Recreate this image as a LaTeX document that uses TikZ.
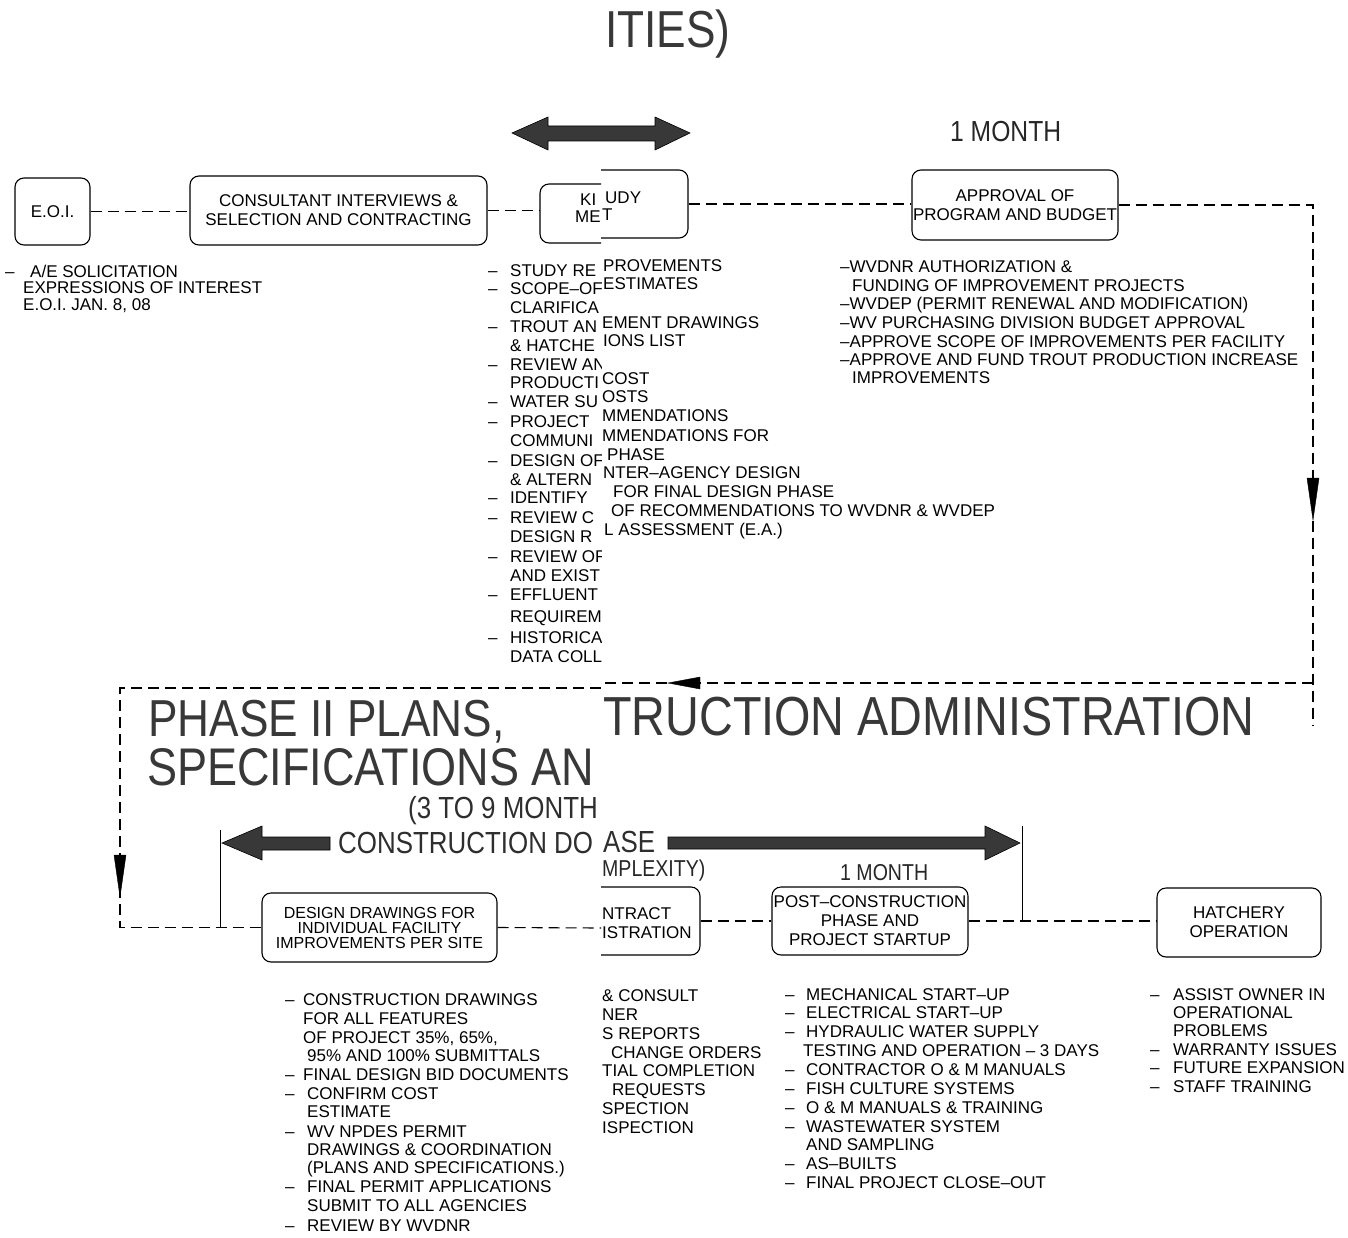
\documentclass[tikz,border=0pt]{standalone}
\usepackage{fontspec}
\setmainfont{Liberation Sans}
\newfontfamily\cadfont{Liberation Sans}
\newfontfamily\ttlfont[FakeStretch=0.85]{Liberation Sans}
\newcommand\tx[4]{\node[cad] (#1) at (#2,#3) {#4};}
\newcommand\bl[5]{\node[cad] (#1d) at (#2,#4) {–};\node[cad] (#1) at (#3,#4) {#5};}
\begin{document}
\begin{tikzpicture}[x=1pt,y=-1pt,
  cad/.style={font=\cadfont\fontsize{17}{19}\selectfont, inner sep=0pt, anchor=base west},
  boxn/.style={draw, rounded corners=9pt, line width=1.1pt, inner sep=0pt, align=center, font=\cadfont\fontsize{17}{19}\selectfont},
  dline/.style={line width=1.1pt, dash pattern=on 11pt off 6pt},
  thin/.style={line width=1pt},
  ttl/.style={font=\ttlfont\fontsize{52}{56}\selectfont, text=black!78, inner sep=0pt, anchor=base west},
  mid/.style={font=\ttlfont\fontsize{30.5}{33}\selectfont, text=black!82, inner sep=0pt, anchor=base west},
  small/.style={font=\ttlfont\fontsize{23}{25}\selectfont, text=black!85, inner sep=0pt, anchor=base west},
  fatarrow/.style={fill=black!78, draw=black, line width=0.6pt},
  tiphead/.style={fill=black, draw=black, line width=0.4pt}]
\useasboundingbox (0,0) rectangle (1348,1238);

% ---------------- top title and arrow
\node[ttl] (title) at (605,48) {ITIES)};
\fill[fatarrow] (512,133) -- (548,117) -- (548,126) -- (655,126) -- (655,117) -- (690,133)
  -- (655,150) -- (655,141) -- (548,141) -- (548,150) -- cycle;
\node[small, font=\ttlfont\fontsize{29}{31}\selectfont] (onemonthA) at (950,142) {1 MONTH};

% ---------------- top row boxes
\node[boxn, minimum width=75pt, minimum height=67pt] (eoi) at (52.5,211.5) {E.O.I.};
\node[boxn, minimum width=297pt, minimum height=69pt] (cons) at (338.5,210.5) {CONSULTANT INTERVIEWS \&\\SELECTION AND CONTRACTING};
\begin{scope}
  \clip (0,0) rectangle (601,1238);
  \node[boxn, minimum width=148pt, minimum height=59pt] (kickA) at (614,213.5) {};
  \tx{kickA1}{580}{206}{KI}
  \tx{kickA2}{575}{223}{ME}
\end{scope}
\begin{scope}
  \clip (601,0) rectangle (1348,1238);
  \node[boxn, minimum width=148pt, minimum height=68pt] (kickB) at (614,204) {};
  \tx{kickB1}{605}{204}{UDY}
  \tx{kickB2}{602}{221}{T}
\end{scope}
\node[boxn, minimum width=206pt, minimum height=70pt] (appr) at (1015,205) {APPROVAL OF\\PROGRAM AND BUDGET};

\draw[dline] (eoi.east) -- (eoi.east -| cons.west);
\draw[dline] (cons.east) -- (cons.east -| kickA.west);
\draw[dline] (kickB.east) -- (kickB.east -| appr.west);

% E.O.I. list
\bl{e1}{5}{30}{278}{A/E SOLICITATION}
\tx{e2}{23}{294}{EXPRESSIONS OF INTEREST}
\tx{e3}{23}{311}{E.O.I. JAN. 8, 08}

% kick-off list, left part
\begin{scope}
  \clip (0,0) rectangle (601,1238);
  \bl{k1}{488}{510}{277}{STUDY RE}
  \bl{k2}{488}{510}{295}{SCOPE–OF}
  \tx{k3}{510}{313}{CLARIFICA}
  \bl{k4}{488}{510}{332}{TROUT AN}
  \tx{k5}{510}{351}{\& HATCHE}
  \bl{k6}{488}{510}{370}{REVIEW AN}
  \tx{k7}{510}{388}{PRODUCTI}
  \bl{k8}{488}{510}{407}{WATER SU}
  \bl{k9}{488}{510}{427}{PROJECT}
  \tx{k10}{510}{446}{COMMUNI}
  \bl{k11}{488}{510}{466}{DESIGN OF}
  \tx{k12}{510}{485}{\& ALTERN}
  \bl{k13}{488}{510}{503}{IDENTIFY}
  \bl{k14}{488}{510}{523}{REVIEW C}
  \tx{k15}{510}{542}{DESIGN R}
  \bl{k16}{488}{510}{562}{REVIEW OF}
  \tx{k17}{510}{581}{AND EXIST}
  \bl{k18}{488}{510}{600}{EFFLUENT}
  \tx{k19}{510}{622}{REQUIREME}
  \bl{k20}{488}{510}{643}{HISTORICA}
  \tx{k21}{510}{662}{DATA COLL}
\end{scope}
% kick-off list, right part
\begin{scope}
  \clip (601,0) rectangle (1348,1238);
  \tx{r1}{603}{272}{PROVEMENTS}
  \tx{r2}{603}{290}{ESTIMATES}
  \tx{r3}{602}{328}{EMENT DRAWINGS}
  \tx{r4}{603}{346}{IONS LIST}
  \tx{r5}{602}{384}{COST}
  \tx{r6}{602}{402}{OSTS}
  \tx{r7}{602}{421}{MMENDATIONS}
  \tx{r8}{602}{441}{MMENDATIONS FOR}
  \tx{r9}{607}{460}{PHASE}
  \tx{r10}{603}{478}{NTER–AGENCY DESIGN}
  \tx{r11}{613}{497}{FOR FINAL DESIGN PHASE}
  \tx{r12}{611}{516}{OF RECOMMENDATIONS TO WVDNR \& WVDEP}
  \tx{r13}{604}{535}{L ASSESSMENT (E.A.)}
\end{scope}

% approval list
\tx{a1}{840}{273}{–WVDNR AUTHORIZATION \&}
\tx{a2}{852}{291}{FUNDING OF IMPROVEMENT PROJECTS}
\tx{a3}{840}{309}{–WVDEP (PERMIT RENEWAL AND MODIFICATION)}
\tx{a4}{840}{328}{–WV PURCHASING DIVISION BUDGET APPROVAL}
\tx{a5}{840}{347}{–APPROVE SCOPE OF IMPROVEMENTS PER FACILITY}
\tx{a6}{840}{365}{–APPROVE AND FUND TROUT PRODUCTION INCREASE}
\tx{a7}{852}{383}{IMPROVEMENTS}

% ---------------- loop connector
\coordinate (cR) at (1313,205);
\coordinate (cRb) at (1313,725);
\coordinate (hR) at (1313,683);
\coordinate (hM) at (601,683);
\coordinate (hM2) at (601,688);
\coordinate (hL) at (120,688);
\draw[dline] (appr.east) -- (cR) -- (cRb);
\draw[dline] (hR) -- (hM);
\fill[tiphead] (1307,478) -- (1319,478) -- (1313,520) -- cycle;
\fill[tiphead] (700,677) -- (700,689) -- (668,683) -- cycle;

% ---------------- phase II titles
\begin{scope}
  \clip (0,0) rectangle (601,1238);
  \node[ttl] (ph1) at (148,736) {PHASE II PLANS\smash{,}};
  \node[ttl, font=\ttlfont\fontsize{53}{56}\selectfont] (ph2) at (147,785) {SPECIFICATIONS AN};
  \node[mid] (m1) at (408,818) {(3 TO 9 MONTH};
  \node[mid] (m2) at (338,853) {CONSTRUCTION DO};
\end{scope}
\begin{scope}
  \clip (601,0) rectangle (1348,1238);
  \node[ttl, font=\ttlfont\fontsize{55}{58}\selectfont] (ph3) at (603,735) {TRUCTION ADMINISTRATION};
  \node[mid] (m3) at (603,852) {ASE};
  \node[small] (m4) at (602,876) {MPLEXITY\smash{)}};
\end{scope}
\node[small] (onemonthB) at (840,880) {1 MONTH};

% big lower double arrow
\fill[fatarrow] (222,843) -- (262,826) -- (262,837) -- (330,837) -- (330,850) -- (262,850) -- (262,860) -- cycle;
\fill[fatarrow] (668,837) -- (985,837) -- (985,826) -- (1020,843) -- (985,860) -- (985,849) -- (668,849) -- cycle;

% ---------------- bottom row boxes
\node[boxn, minimum width=235pt, minimum height=69pt, font=\cadfont\fontsize{16}{15}\selectfont] (des) at (379.5,927.5) {DESIGN DRAWINGS FOR\\INDIVIDUAL FACILITY\\IMPROVEMENTS PER SITE};
\begin{scope}
  \clip (601,0) rectangle (1348,1238);
  \node[boxn, minimum width=130pt, minimum height=68pt] (conB) at (635,921) {};
  \tx{c1}{602}{919}{NTRACT}
  \tx{c2}{602}{938}{ISTRATION}
\end{scope}
\node[boxn, minimum width=196pt, minimum height=68pt] (post) at (870,921) {POST–CONSTRUCTION\\PHASE AND\\PROJECT STARTUP};
\node[boxn, minimum width=164pt, minimum height=69pt] (hat) at (1239,922.5) {HATCHERY\\OPERATION};

\coordinate (cD) at (601,928);
\draw[dline] (hM2) -- (hL) -- (hL |- des.west) -- (des.west);
\fill[tiphead] (114,855) -- (126,855) -- (120,897) -- cycle;
\draw[dline] (des.east) -- (cD);
\draw[dline] (conB.east) -- (conB.east -| post.west);
\draw[dline] (post.east) -- (post.east -| hat.west);
\coordinate (v1) at (220,830);
\coordinate (v2) at (1022,826);
\draw[thin] (v1) -- (v1 |- des.west);
\draw[thin] (v2) -- (v2 |- post.east);

% design list
\bl{d1}{285}{303}{1005}{CONSTRUCTION DRAWINGS}
\tx{d2}{303}{1024}{FOR ALL FEATURES}
\tx{d3}{303}{1043}{OF PROJECT 35\%, 65\%,}
\tx{d4}{307}{1061}{95\% AND 100\% SUBMITTALS}
\bl{d5}{285}{303}{1080}{FINAL DESIGN BID DOCUMENTS}
\bl{d6}{285}{307}{1099}{CONFIRM COST}
\tx{d7}{307}{1117}{ESTIMATE}
\bl{d8}{285}{307}{1137}{WV NPDES PERMIT}
\tx{d9}{307}{1155}{DRAWINGS \& COORDINATION}
\tx{d10}{307}{1173}{(PLANS AND SPECIFICATIONS.)}
\bl{d11}{285}{307}{1192}{FINAL PERMIT APPLICATIONS}
\tx{d12}{307}{1211}{SUBMIT TO ALL AGENCIES}
\bl{d13}{285}{307}{1231}{REVIEW BY WVDNR}

% contract list, right part
\begin{scope}
  \clip (601,0) rectangle (1348,1238);
  \tx{ca1}{602}{1001}{\& CONSULT}
  \tx{ca2}{602}{1020}{NER}
  \tx{ca3}{602}{1039}{S REPORTS}
  \tx{ca4}{611}{1058}{CHANGE ORDERS}
  \tx{ca5}{602}{1076}{TIAL COMPLETION}
  \tx{ca6}{612}{1095}{REQUESTS}
  \tx{ca7}{602}{1114}{SPECTION}
  \tx{ca8}{602}{1133}{ISPECTION}
\end{scope}

% post-construction list
\bl{p1}{785}{806}{1000}{MECHANICAL START–UP}
\bl{p2}{785}{806}{1018}{ELECTRICAL START–UP}
\bl{p3}{785}{806}{1037}{HYDRAULIC WATER SUPPLY}
\tx{p4}{803}{1056}{TESTING AND OPERATION – 3 DAYS}
\bl{p5}{785}{806}{1075}{CONTRACTOR O \& M MANUALS}
\bl{p6}{785}{806}{1094}{FISH CULTURE SYSTEMS}
\bl{p7}{785}{806}{1113}{O \& M MANUALS \& TRAINING}
\bl{p8}{785}{806}{1132}{WASTEWATER SYSTEM}
\tx{p9}{806}{1150}{AND SAMPLING}
\bl{p10}{785}{806}{1169}{AS–BUILTS}
\bl{p11}{785}{806}{1188}{FINAL PROJECT CLOSE–OUT}

% hatchery list
\bl{h1}{1150}{1173}{1000}{ASSIST OWNER IN}
\tx{h2}{1173}{1018}{OPERATIONAL}
\tx{h3}{1173}{1036}{PROBLEMS}
\bl{h4}{1150}{1173}{1055}{WARRANTY ISSUES}
\bl{h5}{1150}{1173}{1073}{FUTURE EXPANSION}
\bl{h6}{1150}{1173}{1092}{STAFF TRAINING}
\end{tikzpicture}
\end{document}
